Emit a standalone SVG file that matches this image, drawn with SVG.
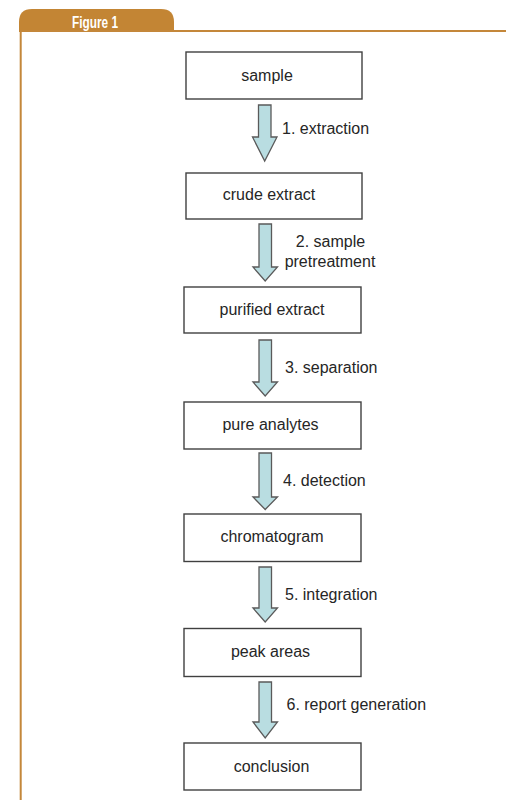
<svg xmlns="http://www.w3.org/2000/svg" width="506" height="800" viewBox="0 0 506 800">
<style>
.frame{fill:none;stroke:#c4873a;stroke-width:2}
.box{fill:#fff;stroke:#404040;stroke-width:1.4}
.arrow{fill:#b9dde1;stroke:#5a5a5a;stroke-width:1.3;stroke-linejoin:miter}
.t{font-family:"Liberation Sans",Arial,sans-serif;font-size:16px;fill:#262626}
.c{text-anchor:middle}
.title{font-family:"Liberation Sans",Arial,sans-serif;font-size:16px;font-weight:bold;fill:#fff}
</style>
<rect width="506" height="800" fill="#fff"/>
<g id="frame">
<path d="M19,32 L19,22 Q19,9 32,9 L161,9 Q174,9 174,22 L174,32 Z" fill="#c38534"/>
<path class="frame" d="M20.7,800 L20.7,31 L506,31"/>
<text class="title" x="95" y="27.5" text-anchor="middle" textLength="46" lengthAdjust="spacingAndGlyphs">Figure 1</text>
</g>
<g id="connectors">
<path class="arrow" d="M258.5,105 H271 V137 H277 L264.7,161 L252.5,137 H258.5 Z"/>
<path class="arrow" d="M259,224 H271.5 V267 H277.5 L265.2,281 L253,267 H259 Z"/>
<path class="arrow" d="M259,340 H271.5 V382 H277.5 L265.2,396 L253,382 H259 Z"/>
<path class="arrow" d="M259,453 H271.5 V497 H277.5 L265.2,509.5 L253,497 H259 Z"/>
<path class="arrow" d="M259,567 H271.5 V608 H277.5 L265.2,622 L253,608 H259 Z"/>
<path class="arrow" d="M259,682 H271.5 V722 H277.5 L265.2,738 L253,722 H259 Z"/>
<text class="t" x="282" y="134">1. extraction</text>
<text class="t c" x="330.5" y="246.5">2. sample</text>
<text class="t c" x="330" y="267">pretreatment</text>
<text class="t" x="285" y="372.5">3. separation</text>
<text class="t" x="283" y="486">4. detection</text>
<text class="t" x="285" y="600">5. integration</text>
<text class="t" x="286.5" y="710">6. report generation</text>
</g>
<g id="sample"><rect class="box" x="186" y="52" width="176" height="47"/><text class="t c" x="267" y="80.5">sample</text></g>
<g id="crude-extract"><rect class="box" x="186" y="173" width="176" height="46"/><text class="t c" x="269" y="199.5">crude extract</text></g>
<g id="purified-extract"><rect class="box" x="184" y="287" width="177" height="46"/><text class="t c" x="272" y="315">purified extract</text></g>
<g id="pure-analytes"><rect class="box" x="184" y="402" width="177" height="47"/><text class="t c" x="270.5" y="430">pure analytes</text></g>
<g id="chromatogram"><rect class="box" x="184" y="514" width="177" height="47.5"/><text class="t c" x="272" y="542">chromatogram</text></g>
<g id="peak-areas"><rect class="box" x="184" y="628.5" width="177" height="48"/><text class="t c" x="270.5" y="656.5">peak areas</text></g>
<g id="conclusion"><rect class="box" x="184" y="743" width="177" height="47"/><text class="t c" x="271.5" y="771.5">conclusion</text></g>
</svg>
